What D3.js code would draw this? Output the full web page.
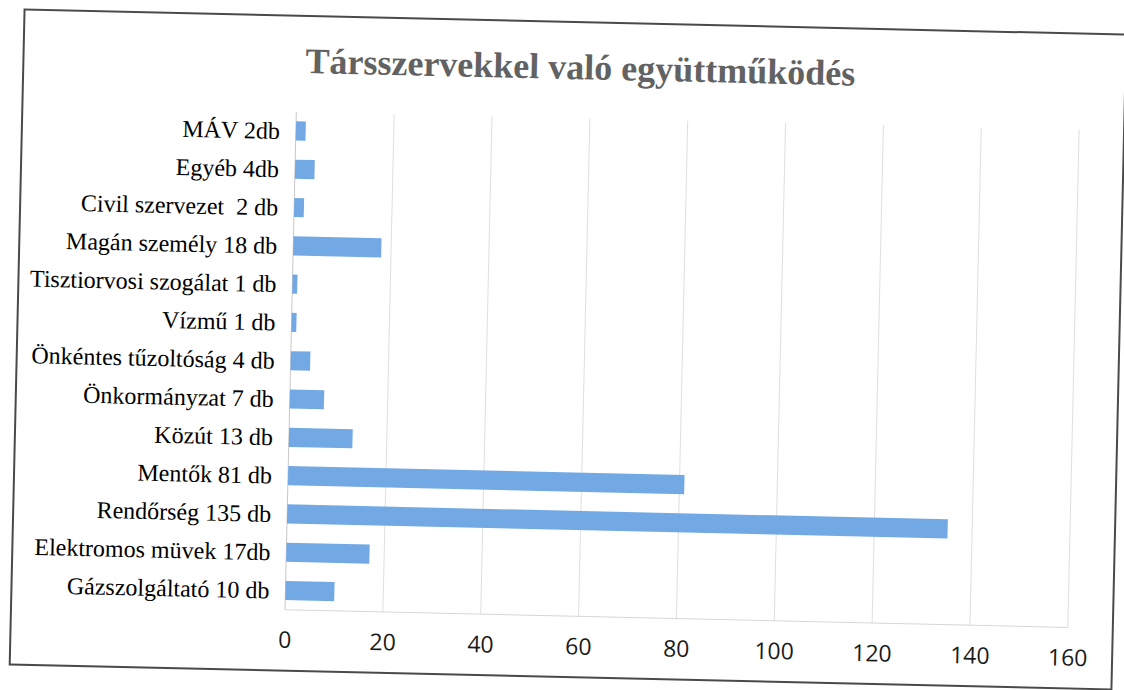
<!DOCTYPE html>
<html>
<head>
<meta charset="utf-8">
<script src="https://cdn.jsdelivr.net/npm/d3@7"></script>
<style>
    body { margin: 0; background: #fff; }
    svg { display: block; }
</style>
</head>
<body>
<svg class="chart" width="1124" height="690"></svg>
<script>
"use strict";
(function () {

    const TITLE = "Társszervekkel való együttműködés";

    const categories = [
        "MÁV 2db",
        "Egyéb 4db",
        "Civil szervezet  2 db",
        "Magán személy 18 db",
        "Tisztiorvosi szogálat 1 db",
        "Vízmű 1 db",
        "Önkéntes tűzoltóság 4 db",
        "Önkormányzat 7 db",
        "Közút 13 db",
        "Mentők 81 db",
        "Rendőrség 135 db",
        "Elektromos müvek 17db",
        "Gázszolgáltató 10 db"
    ];
    const values = [2, 4, 2, 18, 1, 1, 4, 7, 13, 81, 135, 17, 10];
    const xTicks = [0, 20, 40, 60, 80, 100, 120, 140, 160];

    const plot = { left: 291, right: 1074, top: 118, bottom: 616 };

    const svg = d3.select(".chart");

    // the scanned page is slightly tilted
    const g = svg.append("g")
        .attr("transform", "rotate(1.3, 568, 349)");

    g.append("rect")
        .attr("x", 17)
        .attr("y", 22)
        .attr("width", 1102)
        .attr("height", 655)
        .attr("fill", "#fff")
        .attr("stroke", "#4a4a4a")
        .attr("stroke-width", 2);

    g.append("text")
        .attr("x", 574)
        .attr("y", 79)
        .attr("text-anchor", "middle")
        .attr("font-family", "'Liberation Serif', 'Times New Roman', serif")
        .attr("font-weight", "bold")
        .attr("font-size", 36)
        .attr("fill", "#626262")
        .text(TITLE);

    const x = d3.scaleLinear()
        .domain([0, 160])
        .range([plot.left, plot.right]);

    const y = d3.scaleBand()
        .domain(categories)
        .range([plot.top, plot.bottom])
        .paddingInner(0.5)
        .paddingOuter(0.25);

    // gridlines
    g.append("g")
        .selectAll("line")
        .data(xTicks)
        .enter()
        .append("line")
        .attr("x1", d => x(d))
        .attr("x2", d => x(d))
        .attr("y1", plot.top)
        .attr("y2", plot.bottom)
        .attr("stroke", d => d === 0 ? "#c8c8c8" : "#e0e0e0")
        .attr("stroke-width", 1);

    g.append("line")
        .attr("x1", plot.left)
        .attr("x2", plot.right)
        .attr("y1", plot.bottom)
        .attr("y2", plot.bottom)
        .attr("stroke", "#d6d6d6");

    // bars
    g.append("g")
        .selectAll("rect")
        .data(values)
        .enter()
        .append("rect")
        .attr("x", x(0))
        .attr("y", (d, i) => y(categories[i]))
        .attr("width", d => x(d) - x(0))
        .attr("height", y.bandwidth())
        .attr("fill", "#72a9e5");

    // category labels
    g.append("g")
        .selectAll("text")
        .data(categories)
        .enter()
        .append("text")
        .attr("x", x(0) - 16)
        .attr("y", c => y(c) + y.bandwidth() / 2)
        .attr("dy", "0.35em")
        .attr("text-anchor", "end")
        .attr("font-family", "'Liberation Serif', 'Times New Roman', serif")
        .attr("font-size", 24)
        .attr("fill", "#000")
        .style("white-space", "pre")
        .text(c => c);

    // x axis
    const xAxis = d3.axisBottom(x)
        .tickValues(xTicks)
        .tickSize(0)
        .tickPadding(22);

    const axisG = g.append("g")
        .attr("transform", `translate(0,${plot.bottom})`)
        .call(xAxis);

    axisG.select(".domain").remove();
    axisG.selectAll("text")
        .attr("font-family", "'Open Sans', sans-serif")
        .attr("font-size", 23)
        .attr("fill", "#1a1a1a");

})();
</script>
</body>
</html>
